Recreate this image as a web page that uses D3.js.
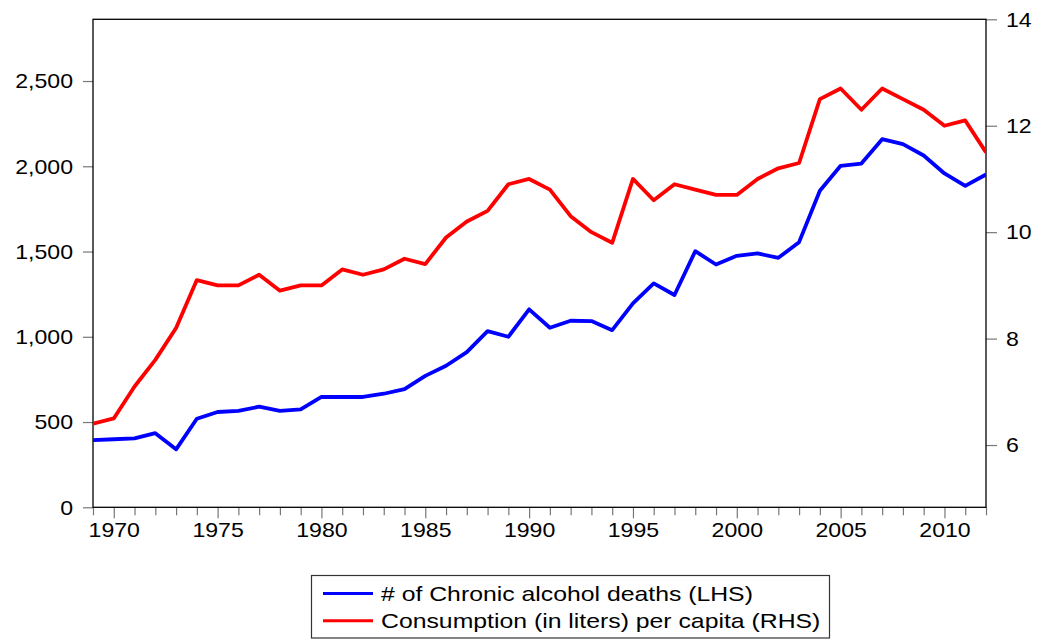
<!DOCTYPE html>
<html>
<head>
<meta charset="utf-8">
<script src="https://cdn.jsdelivr.net/npm/d3@7"></script>
<style>
  body { margin: 0; background: #fff; }
  svg text { font-family: "Liberation Sans", Arial, sans-serif; fill: #000; }
</style>
</head>
<body>
<svg id="chart"></svg>
<script>
const years = d3.range(1969, 2013);

// # of chronic alcohol deaths (left axis)
const deaths = [394, 399, 404, 435, 340, 519, 559, 566, 590, 566,
                574, 647, 647, 647, 666, 693, 771, 830, 910, 1033,
                1000, 1161, 1053, 1094, 1092, 1039, 1196, 1313, 1245, 1502,
                1424, 1475, 1489, 1463, 1555, 1856, 2003, 2016, 2159, 2130,
                2063, 1958, 1885, 1952];

// consumption in liters per capita (right axis)
const consumption = [6.4, 6.5, 7.1, 7.6, 8.2, 9.1, 9.0, 9.0, 9.2, 8.9,
                     9.0, 9.0, 9.3, 9.2, 9.3, 9.5, 9.4, 9.9, 10.2, 10.4,
                     10.9, 11.0, 10.8, 10.3, 10.0, 9.8, 11.0, 10.6, 10.9, 10.8,
                     10.7, 10.7, 11.0, 11.2, 11.3, 12.5, 12.7, 12.3, 12.7, 12.5,
                     12.3, 12.0, 12.1, 11.5];

const leftTicks = [0, 500, 1000, 1500, 2000, 2500];
const rightTicks = [6, 8, 10, 12, 14];
const labelYears = [1970, 1975, 1980, 1985, 1990, 1995, 2000, 2005, 2010];
const seriesNames = ["# of Chronic alcohol deaths (LHS)", "Consumption (in liters) per capita (RHS)"];
const seriesColors = ["#0000ff", "#ff0000"];

const w = 1040;
const h = 639;
const pl = 93, pr = 986, pt = 19.3, pb = 507.3;

let svg = d3.select("#chart").attr("width", w).attr("height", h);

// the reference font is a little wider than Liberation Sans
let stretch = (sel, k) => {
    sel.each(function() {
        let len = this.getComputedTextLength();
        d3.select(this).attr("textLength", len * k).attr("lengthAdjust", "spacingAndGlyphs");
    });
};

let xScale = d3.scaleLinear().domain([1969, 2012]).range([pl, pr]);
let yLeft = d3.scaleLinear().domain([0, 2862]).range([pb, pt]);
let yRight = d3.scaleLinear().domain([4.83, 14]).range([pb, pt]);

svg.append("clipPath").attr("id", "plot")
   .append("rect")
   .attr("x", pl).attr("y", pt)
   .attr("width", pr - pl).attr("height", pb - pt);

// axes
let fmt = d3.format(",");
let leftAxis = svg.append("g")
   .attr("transform", `translate(${pl},0)`)
   .call(d3.axisLeft(yLeft).tickValues(leftTicks).tickFormat(fmt).tickSize(10).tickPadding(10));

let rightAxis = svg.append("g")
   .attr("transform", `translate(${pr},0)`)
   .call(d3.axisRight(yRight).tickValues(rightTicks).tickSize(11).tickPadding(9));

let xMinor = svg.append("g")
   .attr("transform", `translate(0,${pb})`)
   .call(d3.axisBottom(xScale).tickValues(years.filter(y => labelYears.indexOf(y) < 0)).tickFormat("").tickSize(8));

let xMajor = svg.append("g")
   .attr("transform", `translate(0,${pb})`)
   .call(d3.axisBottom(xScale).tickValues(labelYears).tickFormat(d3.format("d")).tickSize(11).tickPadding(4));

[leftAxis, rightAxis, xMinor, xMajor].forEach(g => {
    g.select(".domain").remove();
    g.selectAll(".tick line").attr("stroke", "#777").attr("stroke-width", 1.2);
    g.selectAll(".tick text").style("font-size", "21px").attr("fill", "#000").call(stretch, 1.1);
});

// frame
svg.append("rect")
   .attr("x", pl).attr("y", pt)
   .attr("width", pr - pl).attr("height", pb - pt)
   .attr("fill", "none").attr("stroke", "#000").attr("stroke-width", 1.3);

// lines
let deathLine = d3.line().x((d, i) => xScale(years[i])).y(d => yLeft(d));
let consLine = d3.line().x((d, i) => xScale(years[i])).y(d => yRight(d));

let lines = svg.append("g").attr("clip-path", "url(#plot)");
lines.append("path")
   .datum(consumption)
   .attr("d", consLine)
   .attr("fill", "none").attr("stroke", seriesColors[1]).attr("stroke-width", 3.8)
   .attr("stroke-linejoin", "round");
lines.append("path")
   .datum(deaths)
   .attr("d", deathLine)
   .attr("fill", "none").attr("stroke", seriesColors[0]).attr("stroke-width", 3.8)
   .attr("stroke-linejoin", "round");

// legend
let legend = svg.append("g");
legend.append("rect")
   .attr("x", 311.5).attr("y", 575.5).attr("width", 518).attr("height", 62.5)
   .attr("fill", "#fff").attr("stroke", "#333").attr("stroke-width", 1.2);

seriesNames.forEach((name, i) => {
    let ly = 593.5 + i * 27.3;
    legend.append("line")
       .attr("x1", 323).attr("x2", 373).attr("y1", ly).attr("y2", ly)
       .attr("stroke", seriesColors[i]).attr("stroke-width", 3);
    legend.append("text")
       .attr("x", 381).attr("y", ly + 7.5)
       .style("font-size", "21px")
       .text(name)
       .call(stretch, 1.18);
});
</script>
</body>
</html>
